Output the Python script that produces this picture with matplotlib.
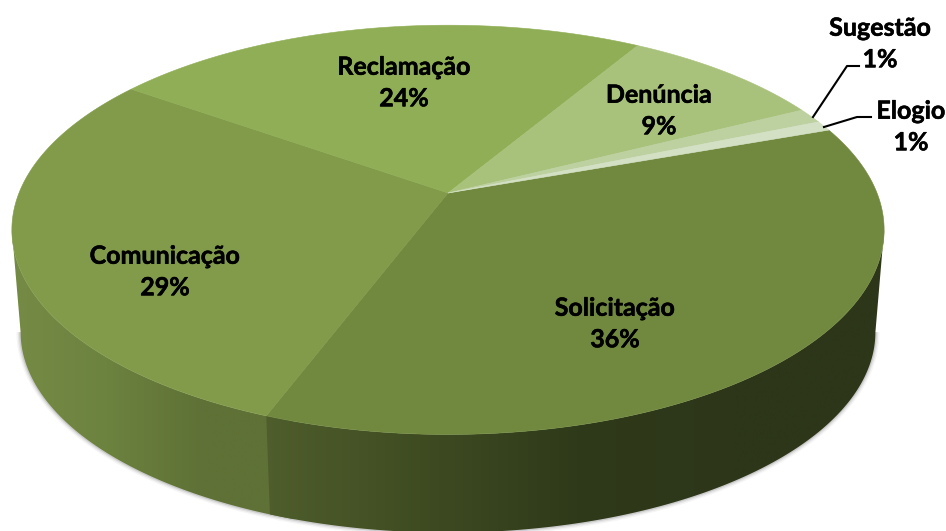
import numpy as np
import matplotlib
matplotlib.use('Agg')
import matplotlib.pyplot as plt
import matplotlib.patheffects as pe
from matplotlib.patches import Polygon

# share of each category (printed text is on the labels)
categories = ['Solicitação', 'Comunicação', 'Reclamação', 'Denúncia', 'Sugestão', 'Elogio']
values = [36.2, 29.1, 23.7, 9.0, 1.2, 0.8]
pct_labels = ['36%', '29%', '24%', '9%', '1%', '1%']

top_colors = ['#71893f', '#819b4a', '#8fae55', '#a8c27b', '#bcd0a0', '#d3e0c3']
label_xy = [(615, 324), (165, 272), (404, 83), (659, 111), (880, 44), (911, 127)]

START_ANGLE = 19.7
CX, CY = 448, 193     # apex of the pie on the image
A, B, K = 429, 198, 0.18   # perspective of the top face
BOTTOM_SCALE = 0.98
BOTTOM_CY = 296
WIDEST = np.degrees(np.arcsin(K))


def top_face(theta):
    t = np.radians(theta)
    w = 1 + K * np.sin(t)
    return CX + A * np.cos(t) / w, CY - B * np.sin(t) / w


def bottom_face(theta):
    t = np.radians(theta)
    w = 1 + K * np.sin(t)
    return CX + BOTTOM_SCALE * A * np.cos(t) / w, BOTTOM_CY - BOTTOM_SCALE * B * np.sin(t) / w


def side_polygon(a, b):
    th = np.linspace(a, b, 200)
    x0, y0 = top_face(th)
    x1, y1 = bottom_face(th[::-1])
    return np.column_stack([np.r_[x0, x1], np.r_[y0, y1]])


def gradient_side(ax, poly, x_from, x_to, colors):
    # horizontal gradient clipped to the side of the slice
    xs = np.linspace(0, 1, 256)
    stops = np.linspace(0, 1, len(colors))
    rgb = np.array([matplotlib.colors.to_rgb(c) for c in colors])
    img = np.stack([np.interp(xs, stops, rgb[:, i]) for i in range(3)], axis=-1)[None, :, :]
    im = ax.imshow(img, extent=(x_from, x_to, 531, 0), aspect='auto', zorder=2, interpolation='bilinear')
    patch = Polygon(poly, closed=True, transform=ax.transData, facecolor='none', edgecolor='none')
    ax.add_patch(patch)
    im.set_clip_path(patch)


fig = plt.figure(figsize=(9.46, 5.31), dpi=100)
ax = fig.add_axes([0, 0, 1, 1])

sweeps = np.array(values) / sum(values) * 360
edges = START_ANGLE - np.r_[0, np.cumsum(sweeps)]

# soft shadow round the lower rim
bx, by = bottom_face(np.linspace(-WIDEST, -180 + WIDEST, 300))
for lw, alpha in [(6, 0.06), (4, 0.10), (2, 0.18)]:
    ax.plot(bx, by, color='#555555', lw=lw, alpha=alpha, zorder=1, solid_capstyle='butt')

# visible sides: Comunicação first, Solicitação laid over the seam
sol_end = edges[1]
gradient_side(ax, side_polygon(sol_end + 3, -180 + WIDEST), 10, 300,
              ['#758b45', '#6c823f', '#5f7136', '#5f7136'])
gradient_side(ax, side_polygon(-WIDEST, sol_end), 262, 890,
              ['#4f5e2c', '#3f4c22', '#2f3a1a', '#2d3619', '#2d3619'])

# top face
for i, c in enumerate(top_colors):
    th = np.linspace(edges[i], edges[i + 1], 200)
    x, y = top_face(th)
    ax.fill(np.r_[CX, x], np.r_[CY, y], color=c, lw=0.4, zorder=3)

for name, pct, (x, y) in zip(categories, pct_labels, label_xy):
    ax.text(x, y, name + '\n' + pct, ha='center', va='center', family='Lato',
            fontweight='bold', fontsize=18, color='black', linespacing=1.45, zorder=5,
            path_effects=[pe.withStroke(linewidth=0.4, foreground='black')])

# leader lines of the two small slices
ax.plot([813, 847, 859], [117, 66, 66], color='black', lw=1.5, zorder=4)
ax.plot([824, 857, 871], [127, 117, 117], color='black', lw=1.5, zorder=4)

ax.set_xlim(0, 946)
ax.set_ylim(531, 0)
ax.axis('off')
fig.savefig('out.png', dpi=100)
